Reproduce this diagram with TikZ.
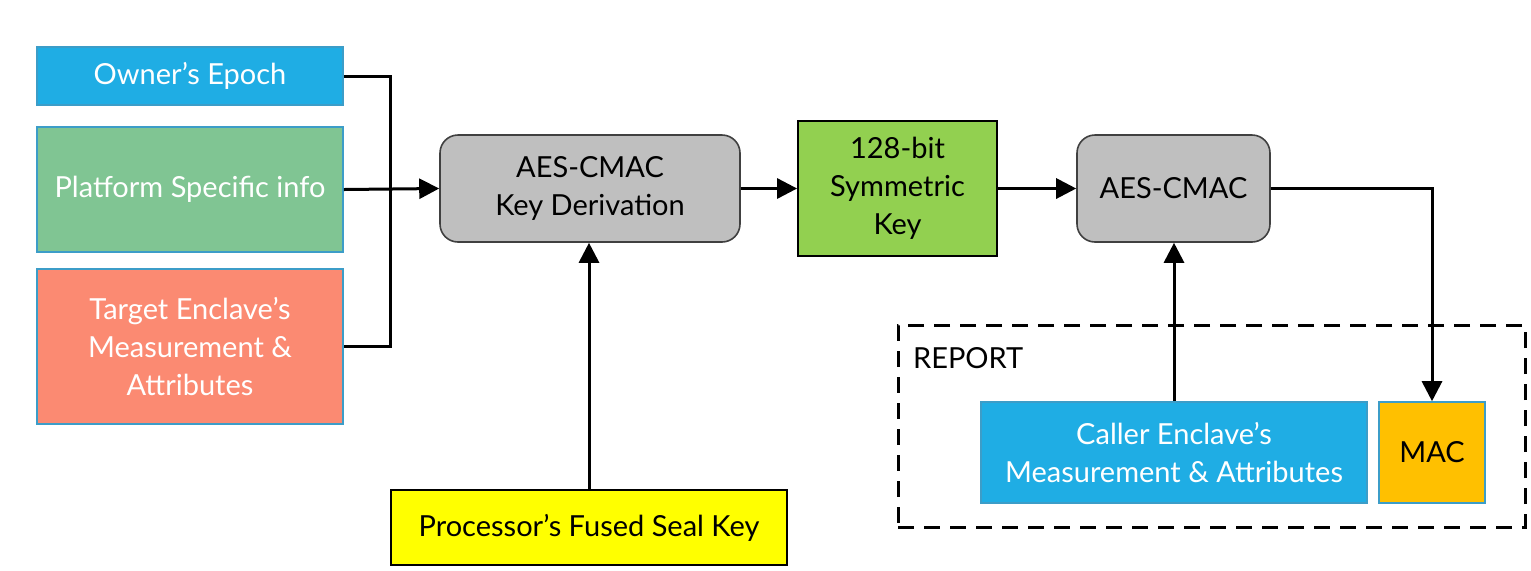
\documentclass[tikz,border=0pt]{standalone}
\usepackage{fontspec}
\setmainfont{Lato}
\usetikzlibrary{arrows.meta, positioning}

\definecolor{epochblue}{HTML}{1FADE4}
\definecolor{edgeblue}{HTML}{3C9DC8}
\definecolor{platgreen}{HTML}{80C593}
\definecolor{targetred}{HTML}{FB8A72}
\definecolor{kdfgray}{HTML}{BFBFBF}
\definecolor{keygreen}{HTML}{92D050}
\definecolor{fuseyellow}{HTML}{FFFF00}
\definecolor{macorange}{HTML}{FFC000}

\tikzset{
  inbox/.style={draw=edgeblue, line width=0.8pt, align=center, text=white, inner sep=0pt},
  opbox/.style={draw=black!75, line width=0.8pt, rounded corners=9pt, fill=kdfgray, align=center, inner sep=0pt},
  keybox/.style={draw=black, line width=0.9pt, align=center, inner sep=0pt},
  wire/.style={line width=1.5pt},
  arr/.style={wire, -{Triangle[length=10pt, width=10pt]}}
}

\begin{document}
\begin{tikzpicture}[x=0.5pt, y=-0.5pt, font=\fontsize{14.5}{19}\selectfont]
    \useasboundingbox (0,0) rectangle (1531,570);

    \node[inbox, fill=epochblue, minimum width=153pt, minimum height=29pt] (owner) at (190,76) {Owner’s Epoch};
    \node[inbox, fill=platgreen, minimum width=153pt, minimum height=62.5pt] (platform) at (190,189.5) {Platform Specific info};
    \node[inbox, fill=targetred, minimum width=153pt, minimum height=77.5pt] (target) at (190,346.5) {Target Enclave’s\\Measurement \&\\Attributes};

    \node[opbox, minimum width=150pt, minimum height=53.5pt] (kdf) at (590,188.5) {AES-CMAC\\Key Derivation};
    \node[keybox, fill=keygreen, minimum width=99.5pt, minimum height=67.5pt] (symkey) at (897.5,188.5) {128-bit\\Symmetric\\Key};
    \node[opbox, minimum width=96.5pt, minimum height=53.5pt] (cmac) at (1173.5,188.5) {AES-CMAC};
    \node[keybox, fill=fuseyellow, minimum width=198pt, minimum height=37.5pt] (fused) at (589,527.5) {Processor’s Fused Seal Key};

    \node[draw, line width=1.5pt, dash pattern=on 8pt off 5pt, minimum width=313.5pt, minimum height=101pt] (report) at (1211.5,426) {};
    \node[anchor=west] (replabel) at (906,358) {REPORT};
    \node[inbox, fill=epochblue, minimum width=193pt, minimum height=50.5pt] (caller) at (1174,452.5) {Caller Enclave’s\\Measurement \& Attributes};
    \node[inbox, fill=macorange, text=black, minimum width=53pt, minimum height=50.5pt] (mac) at (1432,452.5) {MAC};

    \coordinate (junc) at (390,188.5);

    \draw[wire] (owner.east) -| (junc) |- (target.east);
    \draw[arr] (platform.east) -- (kdf.west);
    \draw[arr] (fused.north) -- (fused.north |- kdf.south);
    \draw[arr] (kdf.east) -- (symkey.west);
    \draw[arr] (symkey.east) -- (cmac.west);
    \draw[arr] (caller.north) -- (caller.north |- cmac.south);
    \draw[arr] (cmac.east) -| (mac.north);
\end{tikzpicture}
\end{document}
